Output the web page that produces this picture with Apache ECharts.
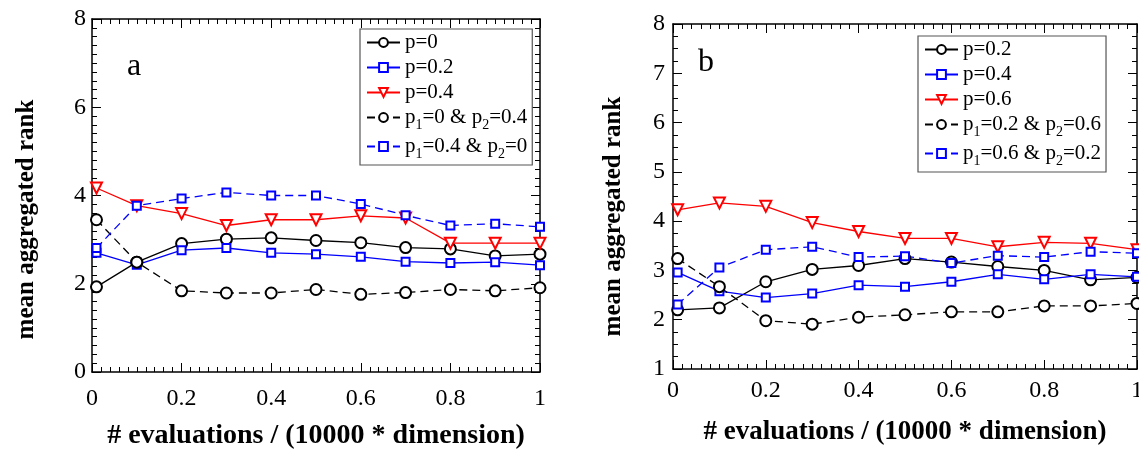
<!DOCTYPE html>
<html>
<head>
<meta charset="utf-8">
<script src="https://cdn.jsdelivr.net/npm/echarts@6/dist/echarts.min.js"></script>
<style>
  html, body { margin: 0; padding: 0; background: #fff; }
  #wrap { position: relative; width: 1139px; height: 452px; }
  #chartA { position: absolute; left: 0; top: 0; width: 570px; height: 452px; }
  #chartB { position: absolute; left: 570px; top: 0; width: 569px; height: 452px; }
</style>
</head>
<body>
<div id="wrap">
  <div id="chartA"></div>
  <div id="chartB"></div>
</div>
<script>
// x positions of the samples
const xVals = [0.01, 0.1, 0.2, 0.3, 0.4, 0.5, 0.6, 0.7, 0.8, 0.9, 1];

// panel a
const aP0 = [1.93, 2.49, 2.91, 3.01, 3.04, 2.98, 2.93, 2.82, 2.79, 2.63, 2.67];
const aP02 = [2.70, 2.43, 2.76, 2.81, 2.70, 2.67, 2.61, 2.50, 2.47, 2.49, 2.42];
const aP04 = [4.17, 3.77, 3.59, 3.32, 3.45, 3.45, 3.54, 3.49, 2.92, 2.92, 2.92];
const aMix1 = [3.45, 2.49, 1.84, 1.79, 1.79, 1.87, 1.76, 1.80, 1.87, 1.84, 1.91];
const aMix2 = [2.81, 3.77, 3.93, 4.07, 4.00, 4.00, 3.81, 3.55, 3.32, 3.36, 3.29];

// panel b
const bP02 = [2.20, 2.24, 2.77, 3.02, 3.10, 3.24, 3.17, 3.08, 3.00, 2.81, 2.86];
const bP04 = [2.96, 2.58, 2.45, 2.53, 2.70, 2.67, 2.77, 2.92, 2.82, 2.92, 2.87];
const bP06 = [4.23, 4.37, 4.30, 3.97, 3.79, 3.65, 3.65, 3.48, 3.57, 3.55, 3.42];
const bMix1 = [3.24, 2.67, 1.98, 1.91, 2.05, 2.10, 2.16, 2.16, 2.28, 2.28, 2.33];
const bMix2 = [2.31, 3.06, 3.42, 3.48, 3.27, 3.29, 3.15, 3.30, 3.27, 3.38, 3.35];

const FONT = '"Liberation Serif", "Times New Roman", serif';

const pairs = (ys) => xVals.map((x, i) => [x, ys[i]]);

const mkSeries = (name, ys, color, symbol, dashed) => {
  const s = {
    name: name,
    type: 'line',
    data: pairs(ys),
    symbol: symbol,
    symbolSize: symbol === 'emptyRect' ? 8 : 11,
    lineStyle: { color: color, width: 1.3, type: dashed ? [8, 5] : 'solid' },
    itemStyle: { color: color, borderColor: color, borderWidth: 1.2 },
    emphasis: { disabled: true },
    animation: false
  };
  if (symbol === 'emptyTriangle') s.symbolRotate = 180;
  return s;
};

const axisCommon = {
  type: 'value',
  axisLine: { show: true, onZero: false, lineStyle: { color: '#000', width: 1.5 } },
  axisTick: { show: true, inside: true, length: 9, lineStyle: { color: '#000', width: 1 } },
  minorTick: { show: true, length: 5, lineStyle: { color: '#000', width: 1 } },
  splitLine: { show: false },
  minorSplitLine: { show: false }
};

const makePanel = (el, cfg) => {
  const chart = echarts.init(el);
  const xBase = Object.assign({}, axisCommon, { min: 0, max: 1, interval: 0.2 });
  const yBase = Object.assign({}, axisCommon, { min: cfg.yMin, max: 8, interval: cfg.yStep });
  xBase.minorTick = Object.assign({}, axisCommon.minorTick, { splitNumber: 10 });
  yBase.minorTick = Object.assign({}, axisCommon.minorTick, { splitNumber: cfg.yMinor });

  const option = {
    backgroundColor: '#fff',
    animation: false,
    title: {
      text: cfg.tag,
      left: cfg.tagLeft,
      top: cfg.tagTop,
      textStyle: { fontFamily: FONT, fontWeight: 'normal', fontSize: 32, color: '#000' }
    },
    grid: Object.assign({ outerBoundsMode: 'none', containLabel: false }, cfg.grid),
    legend: {
      orient: 'vertical',
      left: cfg.legendLeft,
      top: cfg.legendTop,
      backgroundColor: '#fff',
      borderColor: '#555',
      borderWidth: 1.2,
      padding: [3, 5, 4, 6],
      itemWidth: 33,
      itemHeight: 11,
      itemGap: 4,
      selectedMode: false,
      formatter: (name) => name.replace(/p(\d)=/g, 'p{sub|$1}='),
      textStyle: {
        fontFamily: FONT, fontSize: 21, color: '#000',
        rich: {
          sub: { fontFamily: FONT, fontSize: 14, color: '#000', padding: [15, 0, 0, 0] }
        }
      },
      data: cfg.series.map(s => s.name)
    },
    xAxis: [
      Object.assign({}, xBase, {
        position: 'bottom',
        name: '# evaluations / (10000 * dimension)',
        nameLocation: 'middle',
        nameGap: cfg.xNameGap,
        nameTextStyle: { fontFamily: FONT, fontWeight: 'bold', fontSize: cfg.xNameSize, color: '#000' },
        axisLabel: { fontFamily: FONT, fontSize: 24, color: '#000', margin: cfg.xLabelMargin }
      }),
      Object.assign({}, xBase, { position: 'top', axisLabel: { show: false } })
    ],
    yAxis: [
      Object.assign({}, yBase, {
        position: 'left',
        name: 'mean aggregated rank',
        nameLocation: 'middle',
        nameGap: cfg.yNameGap,
        nameTextStyle: {
          fontFamily: FONT, fontWeight: 'bold', fontSize: 25, color: '#000',
          padding: [0, cfg.yNameShift, 0, 0]
        },
        axisLabel: { fontFamily: FONT, fontSize: 24, color: '#000', margin: cfg.yLabelMargin }
      }),
      Object.assign({}, yBase, { position: 'right', axisLabel: { show: false } })
    ],
    series: cfg.series
  };
  chart.setOption(option);
  return chart;
};

makePanel(document.getElementById('chartA'), {
  tag: 'a', tagLeft: 122, tagTop: 46,
  grid: { left: 92, top: 19, width: 448, height: 353 },
  yMin: 0, yStep: 2, yMinor: 10,
  legendLeft: 360, legendTop: 29,
  xNameGap: 50, xNameSize: 28, yNameGap: 53, yNameShift: 48,
  xLabelMargin: 15, yLabelMargin: 6,
  series: [
    mkSeries('p=0', aP0, '#000', 'emptyCircle', false),
    mkSeries('p=0.2', aP02, '#0000ff', 'emptyRect', false),
    mkSeries('p=0.4', aP04, '#ff0000', 'emptyTriangle', false),
    mkSeries('p1=0 & p2=0.4', aMix1, '#000', 'emptyCircle', true),
    mkSeries('p1=0.4 & p2=0', aMix2, '#0000ff', 'emptyRect', true)
  ]
});

makePanel(document.getElementById('chartB'), {
  tag: 'b', tagLeft: 123, tagTop: 42,
  grid: { left: 103, top: 24, width: 464, height: 345 },
  yMin: 1, yStep: 1, yMinor: 4,
  legendLeft: 348, legendTop: 36,
  xNameGap: 50, xNameSize: 27, yNameGap: 47, yNameShift: 40,
  xLabelMargin: 10, yLabelMargin: 8,
  series: [
    mkSeries('p=0.2', bP02, '#000', 'emptyCircle', false),
    mkSeries('p=0.4', bP04, '#0000ff', 'emptyRect', false),
    mkSeries('p=0.6', bP06, '#ff0000', 'emptyTriangle', false),
    mkSeries('p1=0.2 & p2=0.6', bMix1, '#000', 'emptyCircle', true),
    mkSeries('p1=0.6 & p2=0.2', bMix2, '#0000ff', 'emptyRect', true)
  ]
});
</script>
</body>
</html>
